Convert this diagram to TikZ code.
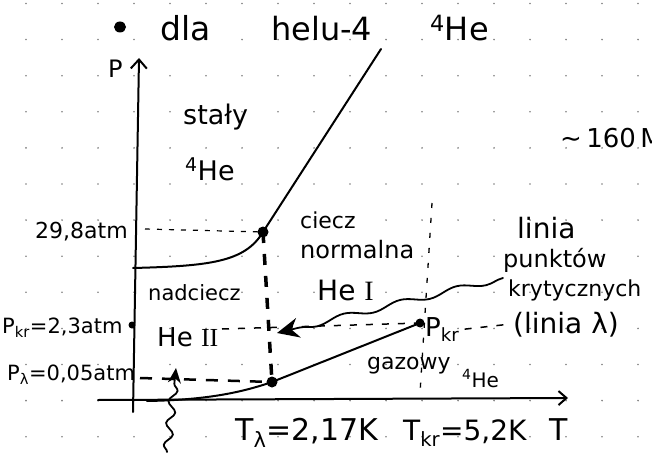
\documentclass[tikz,border=0pt]{standalone}
\usepackage{fontspec}
\setmainfont{DejaVu Sans}
\newfontfamily\numfont{Liberation Serif}
\usetikzlibrary{arrows.meta,decorations.pathmorphing}
\newcommand\fsz[1]{\fontsize{#1}{#1}\selectfont}
\begin{document}
\begin{tikzpicture}[x=1pt,y=-1pt,
  ink/.style={line width=2pt, line cap=round, line join=round},
  lbl/.style={inner sep=0pt, anchor=base west, text=black},
  thindash/.style={line width=1.2pt, dash pattern=on 5pt off 7pt},
  middash/.style={line width=1.5pt, dash pattern=on 7pt off 9pt},
  wavy/.style={line width=1.8pt, decorate, line cap=round},
]
\useasboundingbox (0,0) rectangle (652,454);
\fill[white] (0,0) rectangle (652,454);
% dotted paper
\foreach \i in {0,...,17} \foreach \j in {0,...,12}
  \fill[black!50] (26+36*\i, 3.5+36.1*\j) circle (0.9pt);

% title
\fill (120,27) ellipse (6pt and 5.5pt);
\node[lbl, font=\fsz{33}] (tdla) at (160,41) {dla};
\node[lbl, font=\fsz{32}] (thelu) at (271,41) {helu-4};
\node[lbl, font=\fsz{32}] (the) at (430,41) {\textsuperscript{4}He};

% axes
\coordinate (Pbot) at (133,412);
\coordinate (Ptop) at (139,58);
\draw[ink, -{Straight Barb[length=9pt,width=16pt]}] (Pbot) -- (Ptop);
\node[lbl, font=\fsz{24}] (Plab) at (108,78) {P};
\coordinate (Tleft) at (98,400);
\coordinate (Tright) at (568,398);
\draw[ink, -{Straight Barb[length=8pt,width=14pt]}] (Tleft) -- (Tright);

% key points
\coordinate (Mstart) at (133,268);
\coordinate (M) at (263,232);
\coordinate (Mtop) at (381,49);
\coordinate (Vstart) at (147,401);
\coordinate (L) at (272,382);
\coordinate (K) at (420,323);
\coordinate (Pkrax) at (132,325);

% melting curve
\draw[ink] (Mstart) .. controls (210,266) and (245,262) .. (M) -- (Mtop);
% vapour curve
\draw[ink] (Vstart) .. controls (205,400) and (240,393) .. (L) -- (K);

% dashed guides
\coordinate (M298) at (145,229);
\draw[thindash] (M298) -- (M);
\draw[line width=3.5pt, dash pattern=on 11pt off 11pt] (M) -- (L);
\coordinate (Plam) at (140,378);
\draw[line width=2.5pt, dash pattern=on 12pt off 10pt] (Plam) -- (L);
\coordinate (Pkrd) at (222,329);
\draw[middash] (Pkrd) -- (K);
\coordinate (Vtop) at (432,203);
\coordinate (Vbot) at (420,393);
\draw[line width=1.3pt, dash pattern=on 5pt off 10pt] (Vtop) -- (Vbot);

% points
\fill (M) circle (5.5pt);
\fill (L) circle (5.5pt);
\fill (K) circle (4.5pt);
\fill (Pkrax) circle (3.5pt);

% wavy arrows
\coordinate (Wstart) at (503,278);
\coordinate (Wend) at (277,333);
\draw[wavy, decoration={snake, amplitude=3pt, segment length=58pt, post length=22pt},
  -{Stealth[length=22pt,width=20pt]}] (Wstart) -- (Wend);
\coordinate (Sbot) at (167,452);
\coordinate (Stop) at (176,368);
\draw[wavy, decoration={snake, amplitude=4pt, segment length=22pt, post length=10pt},
  -{Stealth[length=15pt,width=13pt]}] (Sbot) -- (Stop);

% labels
\node[lbl, font=\fsz{22}] (l298) at (35,238) {29,8atm};
\node[lbl, font=\fsz{21}] (lpkr) at (2,333) {P\textsubscript{kr}=2,3atm};
\node[lbl, font=\fsz{21}] (lplam) at (7,380) {P\textsubscript{λ}=0,05atm};
\node[lbl, font=\fsz{27}] (stal) at (183,125) {stały};
\node[lbl, font=\fsz{27}] (stalHe) at (185,181) {\textsuperscript{4}He};
\node[lbl, font=\fsz{22}] (ciecz) at (300,228) {ciecz};
\node[lbl, font=\fsz{24}] (norm) at (300,258) {normalna};
\node[lbl, font=\fsz{28}] (heI) at (317,300) {He {\numfont I}};
\node[lbl, font=\fsz{21}] (nadc) at (148,300) {nadciecz};
\node[lbl, font=\fsz{26}] (heII) at (157,346) {He {\numfont II}};
\node[lbl, font=\fsz{22}] (gaz) at (367,369) {gazowy};
\node[lbl, font=\fsz{20}] (gazHe) at (462,387) {\textsuperscript{4}He};
\node[lbl, font=\fsz{26}] (pkrlab) at (425,336) {P\textsubscript{kr}};
\node[lbl, font=\fsz{28}] (linl) at (513,333) {(linia λ)};
\draw[middash] ([xshift=5pt]pkrlab.east) -- ([xshift=-4pt]linl.west);
\node[lbl, font=\fsz{28}] (lin) at (517,238) {linia};
\node[lbl, font=\fsz{24}] (punk) at (503,267) {punktów};
\node[lbl, font=\fsz{22}] (kryt) at (508,296) {krytycznych};
\node[lbl, font=\fsz{26}] (m160) at (560,148) {∼\,160\,M};
\node[lbl, font=\fsz{30}] (tlam) at (235,440) {T\textsubscript{λ}=2,17K};
\node[lbl, font=\fsz{28}] (tkr) at (403,440) {T\textsubscript{kr}=5,2K};
\node[lbl, font=\fsz{30}] (tT) at (549,440) {T};
\end{tikzpicture}
\end{document}
